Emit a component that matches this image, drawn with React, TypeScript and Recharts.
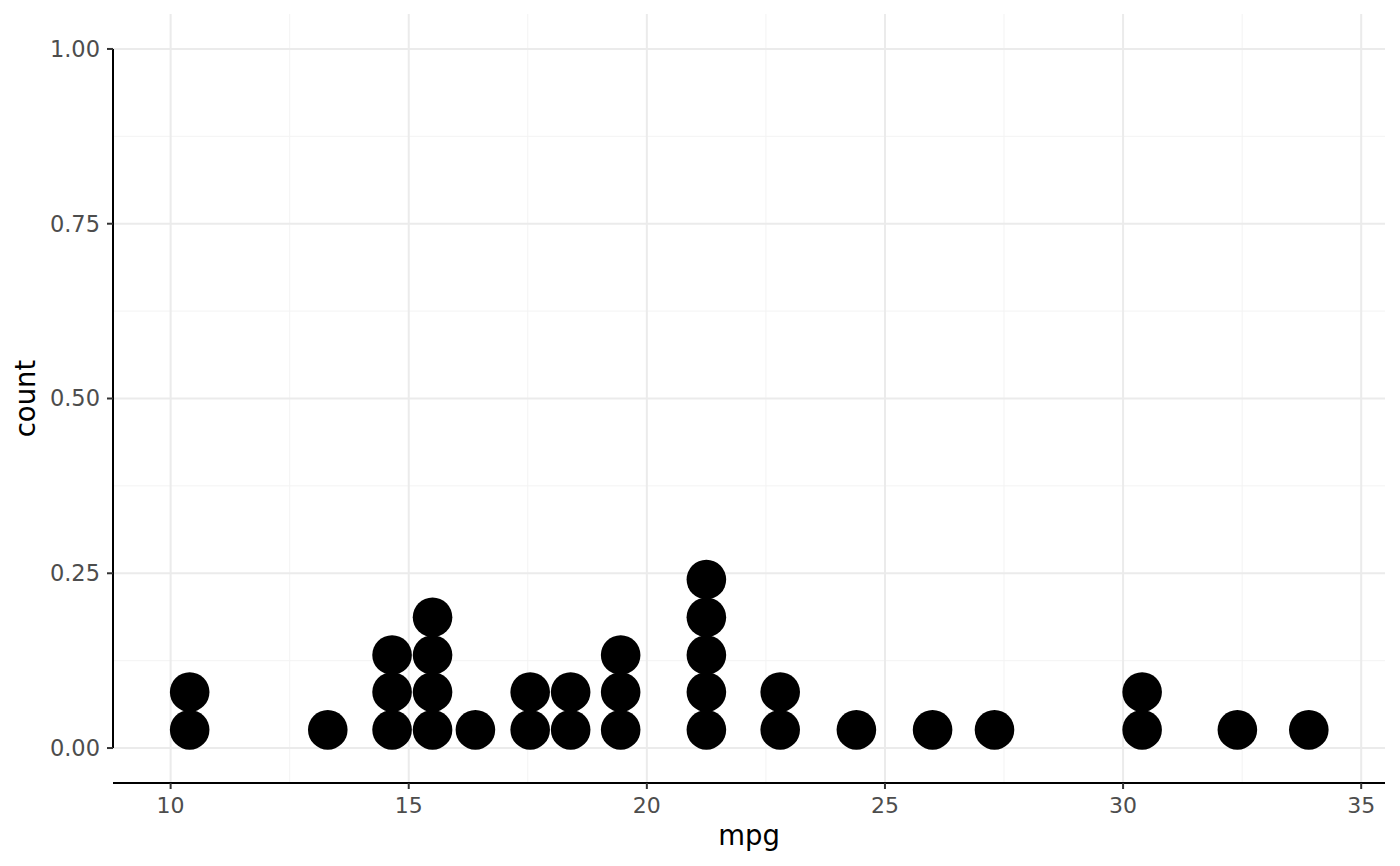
import React from 'react';
import { ScatterChart, Scatter, XAxis, YAxis, ReferenceLine } from 'recharts';

// Dot-plot bins of mpg (bin centre) and the number of stacked dots in each
const binCenters = [10.4, 13.3, 14.65, 15.5, 16.4, 17.55, 18.4, 19.45, 21.25, 22.8, 24.4, 26.0, 27.3, 30.4, 32.4, 33.9];
const binCounts = [2, 1, 3, 4, 1, 2, 2, 3, 5, 2, 1, 1, 1, 2, 1, 1];
// y position (count axis) of the 1st..5th stacked dot
const stackLevels = [0.026, 0.08, 0.133, 0.187, 0.241];

const xTicks = [10, 15, 20, 25, 30, 35];
const xMinor = [12.5, 17.5, 22.5, 27.5, 32.5];
const yTicks = [0, 0.25, 0.5, 0.75, 1];
const yMinor = [0.125, 0.375, 0.625, 0.875];

const xDomain: [number, number] = [8.79, 35.5];
const yDomain: [number, number] = [-0.05, 1.05];

const points: { mpg: number; y: number }[] = [];
binCenters.forEach((c, i) => {
  for (let k = 0; k < binCounts[i]; k++) points.push({ mpg: c, y: stackLevels[k] });
});

const FONT = '"DejaVu Sans", sans-serif';

const Dot = (props: any) => {
  const { cx, cy } = props;
  if (cx == null || cy == null) return null;
  return <circle cx={cx} cy={cy} r={19.8} fill="#000" />;
};

export default function App() {
  return (
    <div style={{ position: 'absolute', left: 0, top: 0, width: 1400, height: 866, background: '#fff' }}>
      <ScatterChart width={1400} height={866} margin={{ top: 14, right: 15, bottom: 0, left: 0 }}>
        {yMinor.map((v) => (
          <ReferenceLine key={'ym' + v} y={v} stroke="#f3f3f3" strokeWidth={1} />
        ))}
        {xMinor.map((v) => (
          <ReferenceLine key={'xm' + v} x={v} stroke="#f3f3f3" strokeWidth={1} />
        ))}
        {yTicks.map((v) => (
          <ReferenceLine key={'yM' + v} y={v} stroke="#ebebeb" strokeWidth={2} />
        ))}
        {xTicks.map((v) => (
          <ReferenceLine key={'xM' + v} x={v} stroke="#ebebeb" strokeWidth={2} />
        ))}
        <XAxis
          type="number"
          dataKey="mpg"
          domain={xDomain}
          ticks={xTicks}
          allowDataOverflow
          height={83}
          axisLine={{ stroke: '#000', strokeWidth: 2 }}
          tickLine={{ stroke: '#333', strokeWidth: 2 }}
          tickSize={6}
          tickMargin={8}
          tick={{ fill: '#4d4d4d', fontSize: 22, fontFamily: FONT }}
          label={{
            content: (p: any) => {
              const vb = p.viewBox;
              return (
                <text x={vb.x + vb.width / 2} y={vb.y + 62} textAnchor="middle" fill="#000" fontSize={27.5} fontFamily={FONT}>
                  mpg
                </text>
              );
            },
          }}
        />
        <YAxis
          type="number"
          dataKey="y"
          domain={yDomain}
          ticks={yTicks}
          allowDataOverflow
          width={113}
          axisLine={false}
          tickLine={{ stroke: '#333', strokeWidth: 2 }}
          tickSize={6}
          tickMargin={7}
          tickFormatter={(v: number) => v.toFixed(2)}
          tick={{ fill: '#4d4d4d', fontSize: 22.5, fontFamily: FONT }}
          label={{
            content: (p: any) => {
              const vb = p.viewBox;
              const x = vb.x + 35;
              const y = vb.y + vb.height / 2;
              return (
                <text x={x} y={y} transform={`rotate(-90 ${x} ${y})`} textAnchor="middle" fill="#000" fontSize={27.5} fontFamily={FONT}>
                  count
                </text>
              );
            },
          }}
        />
        <ReferenceLine
          segment={[{ x: xDomain[0], y: 0 }, { x: xDomain[0], y: 1 }]}
          stroke="#000"
          strokeWidth={2}
          ifOverflow="visible"
        />
        <Scatter data={points} shape={Dot} isAnimationActive={false} />
      </ScatterChart>
    </div>
  );
}
